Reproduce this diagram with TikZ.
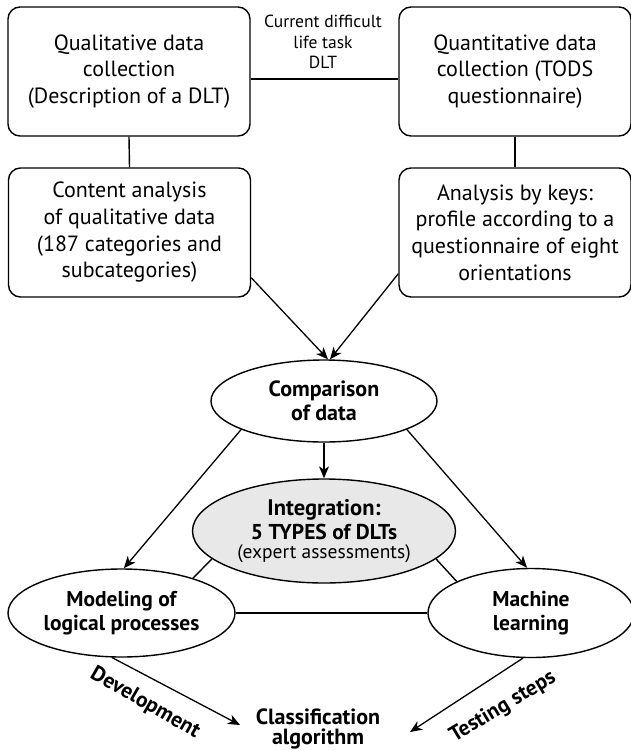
\documentclass[tikz,border=0pt]{standalone}
\usepackage{fontspec}
\setmainfont{PT Sans}
\usetikzlibrary{shapes.geometric,arrows.meta,calc}
\begin{document}
\begin{tikzpicture}[x=1pt,y=-1pt, line width=1.4pt,
  box/.style={draw,rounded corners=12pt,minimum width=242pt,minimum height=129pt,align=center,inner sep=0pt,font=\fontsize{22}{26.7}\selectfont},
  oval/.style={draw,ellipse,inner sep=0pt,align=center,font=\bfseries\fontsize{21.5}{24.5}\selectfont},
  arr/.style={-{Stealth[length=12pt,width=10pt,inset=3.5pt]}, line width=1.3pt},
  lab/.style={font=\bfseries\fontsize{21.5}{24}\selectfont, inner sep=0pt}]
\useasboundingbox (0,0) rectangle (631,750);
\node[box] (b1) at (129,71.5) {Qualitative data\\collection\\(Description of a DLT)};
\node[box,minimum width=232pt] (b2) at (515,71.5) {Quantitative data\\collection (TODS\\questionnaire)};
\node[box] (b3) at (129.5,232.5) {Content analysis\\of qualitative data\\(187 categories and\\subcategories)};
\node[box,minimum width=232pt] (b4) at (515,232.5) {Analysis by keys:\\profile according to a\\questionnaire of eight\\orientations};
\node[font=\fontsize{17.5}{20.5}\selectfont, align=center, inner sep=0pt] (dlt) at (323,42) {Current difficult\\life task\\DLT};
\node[oval,minimum width=226pt,minimum height=82pt,font=\bfseries\fontsize{22}{24.5}\selectfont] (comp) at (324,401) {Comparison\\of data};
\node[oval,fill=gray!18,minimum width=263pt,minimum height=104pt,font=\fontsize{19.5}{18.5}\selectfont] (integ) at (324,531) {{\bfseries\fontsize{22.5}{24}\selectfont Integration:}\\[3pt]{\bfseries\fontsize{21.5}{18.5}\selectfont 5 TYPES of DLTs}\\(expert assessments)};
\node[oval,minimum width=227pt,minimum height=88pt] (model) at (121.5,613) {Modeling of\\logical processes};
\node[oval,minimum width=206pt,minimum height=89pt] (mach) at (531,613) {Machine\\learning};
\node[align=center,inner sep=0pt,font=\bfseries\fontsize{22}{20.5}\selectfont] (class) at (318,729) {Classification\\algorithm};
\coordinate (devend) at (240,725);
\coordinate (testend) at (410,732);
\draw (b1.south) -- (b3.north);
\draw (b2.south) -- (b4.north);
\draw ([yshift=-7.5pt]b1.east) -- ([yshift=-7.5pt]b2.west);
\draw[arr] ([yshift=20pt]b3.south east) -- ([xshift=4pt]comp.north);
\draw[arr] ([yshift=24pt]b4.south west) -- ([xshift=6pt]comp.north);
\draw[arr] (comp.south) -- (integ.north);
\draw[arr] (comp.199) -- (model.87);
\draw[arr] (comp.341) -- (mach.95);
\draw (integ.194.5) -- (model.26);
\draw (integ.346) -- (mach.157);
\draw (model.east) -- (mach.west);
\draw[arr] (model.258) -- (devend);
\draw[arr] (mach.260) -- (testend);
\node[lab, rotate=-30] (dev) at (145,703) {Development};
\node[lab, rotate=31] (test) at (503,707) {Testing steps};
\end{tikzpicture}
\end{document}
